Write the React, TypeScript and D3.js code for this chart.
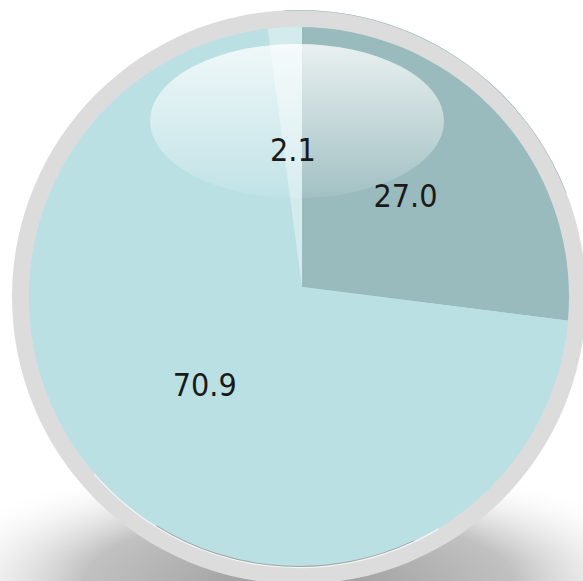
import React, { useEffect, useRef } from 'react';
import * as d3 from 'd3';

// slice values, clockwise from 12 o'clock
const labels = ['27.0', '70.9', '2.1'];
const values = [27.0, 70.9, 2.1];
const colors = ['#9abbbe', '#bbe0e4', '#d4ebee'];

const W = 583;
const H = 581;

export default function App() {
  const ref = useRef<SVGSVGElement | null>(null);

  useEffect(() => {
    if (!ref.current) return;
    const svg = d3.select(ref.current);
    svg.selectAll('*').remove();

    // disc centre and the pie apex are slightly apart in the original
    const cx = 299, cy = 297, r = 270, ringR = 287;
    const ax = 302, ay = 287;

    const defs = svg.append('defs');

    const shadow = defs.append('radialGradient')
      .attr('id', 'shadowGrad')
      .attr('cx', '50%').attr('cy', '50%').attr('r', '50%');
    shadow.append('stop').attr('offset', '0%').attr('stop-color', '#8c8c8c').attr('stop-opacity', 0.9);
    shadow.append('stop').attr('offset', '55%').attr('stop-color', '#a6a6a6').attr('stop-opacity', 0.7);
    shadow.append('stop').attr('offset', '100%').attr('stop-color', '#ffffff').attr('stop-opacity', 0);

    const gloss = defs.append('linearGradient')
      .attr('id', 'glossGrad')
      .attr('x1', 0).attr('y1', 0).attr('x2', 0).attr('y2', 1);
    gloss.append('stop').attr('offset', '0%').attr('stop-color', '#fff').attr('stop-opacity', 0.78);
    gloss.append('stop').attr('offset', '100%').attr('stop-color', '#fff').attr('stop-opacity', 0.08);

    defs.append('clipPath').attr('id', 'discClip')
      .append('circle').attr('cx', cx).attr('cy', cy).attr('r', r);

    // soft shadow under the disc
    svg.append('ellipse')
      .attr('cx', cx).attr('cy', cy + 285)
      .attr('rx', 390).attr('ry', 125)
      .attr('fill', 'url(#shadowGrad)');

    // grey ring
    svg.append('circle')
      .attr('cx', cx).attr('cy', cy).attr('r', ringR)
      .attr('fill', '#dcdcdc');

    const edgeArc = d3.arc<any>();
    svg.append('path')
      .attr('transform', `translate(${cx},${cy})`)
      .attr('d', edgeArc({ innerRadius: ringR - 0.5, outerRadius: ringR, startAngle: -0.05, endAngle: 1.2 }) as string)
      .attr('fill', '#8db4b7');

    const pie = d3.pie<number>().sort(null).value(d => d);
    const arcs = pie(values);
    const arc = d3.arc<d3.PieArcDatum<number>>().innerRadius(0).outerRadius(300);
    const labelArc = d3.arc<d3.PieArcDatum<number>>().innerRadius(0).outerRadius(276);

    const g = svg.append('g').attr('clip-path', 'url(#discClip)');
    g.append('circle').attr('cx', cx).attr('cy', cy).attr('r', r).attr('fill', colors[1]);
    g.append('g')
      .attr('transform', `translate(${ax},${ay})`)
      .selectAll('path')
      .data(arcs)
      .join('path')
      .attr('d', d => arc(d) as string)
      .attr('fill', (_d, i) => colors[i]);

    // thin rim line on lower-left edge
    svg.append('path')
      .attr('transform', `translate(${cx},${cy})`)
      .attr('d', edgeArc({ innerRadius: r, outerRadius: r + 1.2, startAngle: 2.6, endAngle: 4.0 }) as string)
      .attr('fill', '#f4f4f4');
    svg.append('path')
      .attr('transform', `translate(${cx},${cy})`)
      .attr('d', edgeArc({ innerRadius: r - 1, outerRadius: r, startAngle: 2.7, endAngle: 3.7 }) as string)
      .attr('fill', '#9a9a9a')
      .attr('opacity', 0.8);

    // glossy highlight
    svg.append('ellipse')
      .attr('cx', 297).attr('cy', 121)
      .attr('rx', 147).attr('ry', 77)
      .attr('fill', 'url(#glossGrad)');

    svg.append('g')
      .attr('transform', `translate(${ax},${ay})`)
      .selectAll('text')
      .data(arcs)
      .join('text')
      .attr('transform', d => `translate(${labelArc.centroid(d)})`)
      .attr('text-anchor', 'middle')
      .attr('dy', '0.36em')
      .style('font', '32px "DejaVu Sans Condensed", "DejaVu Sans", sans-serif')
      .attr('fill', '#1a1a1a')
      .text((_d, i) => labels[i]);
  }, []);

  return (
    <svg
      ref={ref}
      width={W}
      height={H}
      style={{ position: 'absolute', left: 0, top: 0, display: 'block', background: '#fff' }}
    />
  );
}
